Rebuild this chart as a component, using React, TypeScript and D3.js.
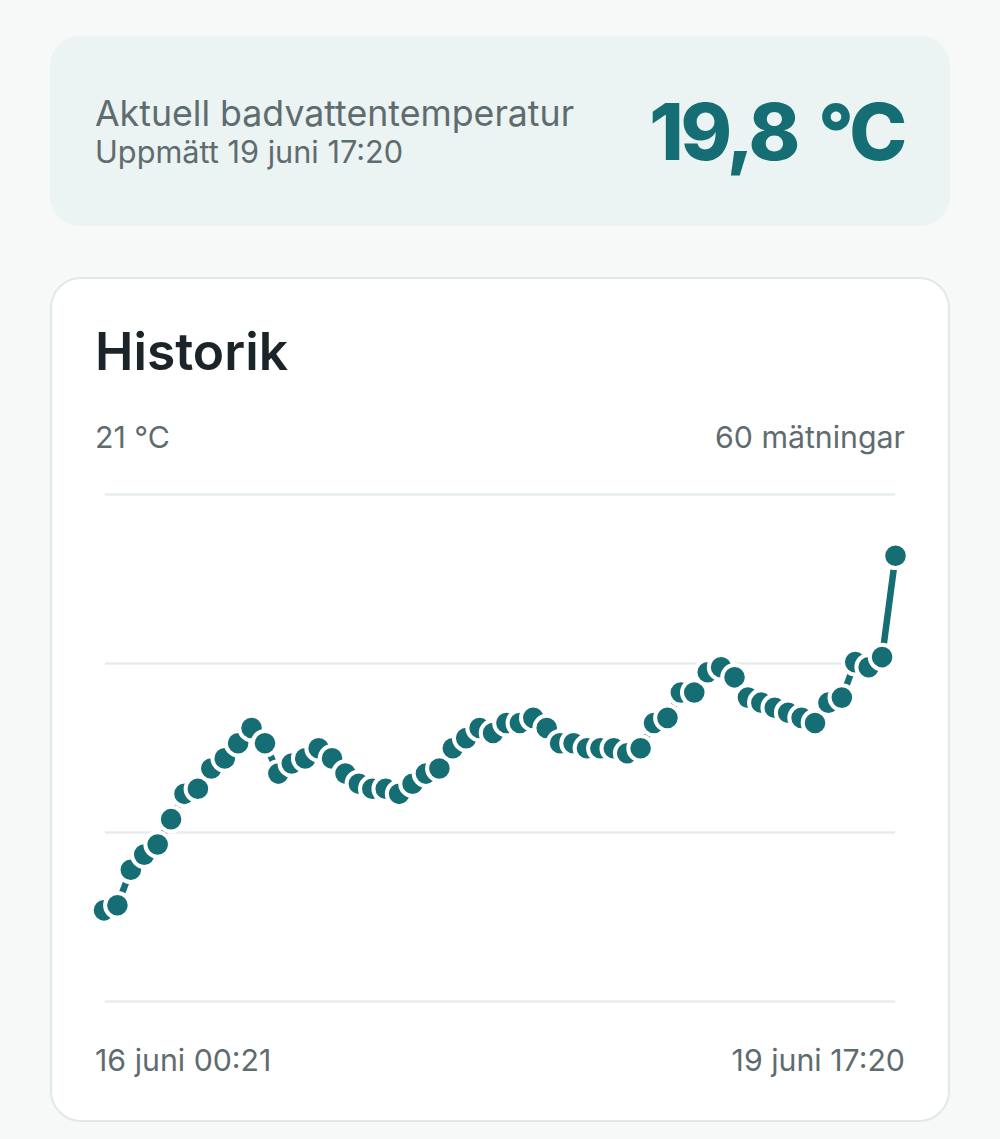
import React from "react";
import * as d3 from "d3";

const temperatures = [
  12.8, 12.9, 13.6, 13.9, 14.1, 14.6, 15.1, 15.2, 15.6, 15.8,
  16.1, 16.4, 16.1, 15.5, 15.7, 15.8, 16.0, 15.8, 15.5, 15.3,
  15.2, 15.2, 15.1, 15.3, 15.5, 15.6, 16.0, 16.2, 16.4, 16.3,
  16.5, 16.5, 16.6, 16.4, 16.1, 16.1, 16.0, 16.0, 16.0, 15.9,
  16.0, 16.5, 16.6, 17.1, 17.1, 17.5, 17.6, 17.4, 17.0, 16.9,
  16.8, 16.7, 16.6, 16.5, 16.9, 17.0, 17.7, 17.6, 17.8, 19.8,
];
const gridValues = [21, 17.625, 14.25, 11];
const yDomain = [11, 21];

const FONT = "Inter, 'Noto Sans', sans-serif";
const TEAL = "#156e73";
const MUTED = "#5f6c6f";

export default function App() {
  const x = d3.scaleLinear().domain([0, temperatures.length - 1]).range([104, 895.5]);
  const y = d3.scaleLinear().domain(yDomain).range([1001.5, 495]);
  const gridY = d3.scaleLinear().domain([0, 3]).range([494.5, 1001.5]);
  const line = d3.line<number>().x((_, i) => x(i)).y((d) => y(d));

  return (
    <svg
      width={1000}
      height={1139}
      viewBox="0 0 1000 1139"
      style={{ position: "absolute", left: 0, top: 0, display: "block" }}
      fontFamily={FONT}
    >
      <rect width={1000} height={1139} fill="#f6f9f8" />
      <rect x={50} y={36} width={900} height={190} rx={30} fill="#ebf3f3" />
      <text x={95} y={126} fontSize={35.7} fill={MUTED}>Aktuell badvattentemperatur</text>
      <text x={95} y={163} fontSize={30.7} fill={MUTED}>Uppmätt 19 juni 17:20</text>
      <text x={904} y={160} fontSize={78} fontWeight={800} letterSpacing={-3.2} wordSpacing={7} textAnchor="end" fill={TEAL}>19,8 °C</text>

      <rect x={51} y={278} width={898} height={843} rx={30} fill="#ffffff" stroke="#e1e8e7" strokeWidth={2} />
      <text x={95} y={370} fontSize={51.5} fontWeight={600} fill="#1b2428">Historik</text>
      <text x={95} y={448} fontSize={30.3} fill={MUTED}>21 °C</text>
      <text x={905} y={448} fontSize={30.3} textAnchor="end" fill={MUTED}>60 mätningar</text>

      {gridValues.map((_, i) => (
        <line key={i} x1={105} x2={895} y1={gridY(i)} y2={gridY(i)} stroke="#e6ecee" strokeWidth={2.5} />
      ))}

      <path d={line(temperatures) ?? ""} fill="none" stroke={TEAL} strokeWidth={6.5} strokeLinejoin="round" />
      {temperatures.map((d, i) => (
        <circle key={i} cx={x(i)} cy={y(d)} r={12.3} fill={TEAL} stroke="#ffffff" strokeWidth={4} />
      ))}

      <text x={95} y={1071} fontSize={30.3} fill={MUTED}>16 juni 00:21</text>
      <text x={905} y={1071} fontSize={30.3} textAnchor="end" fill={MUTED}>19 juni 17:20</text>
    </svg>
  );
}
